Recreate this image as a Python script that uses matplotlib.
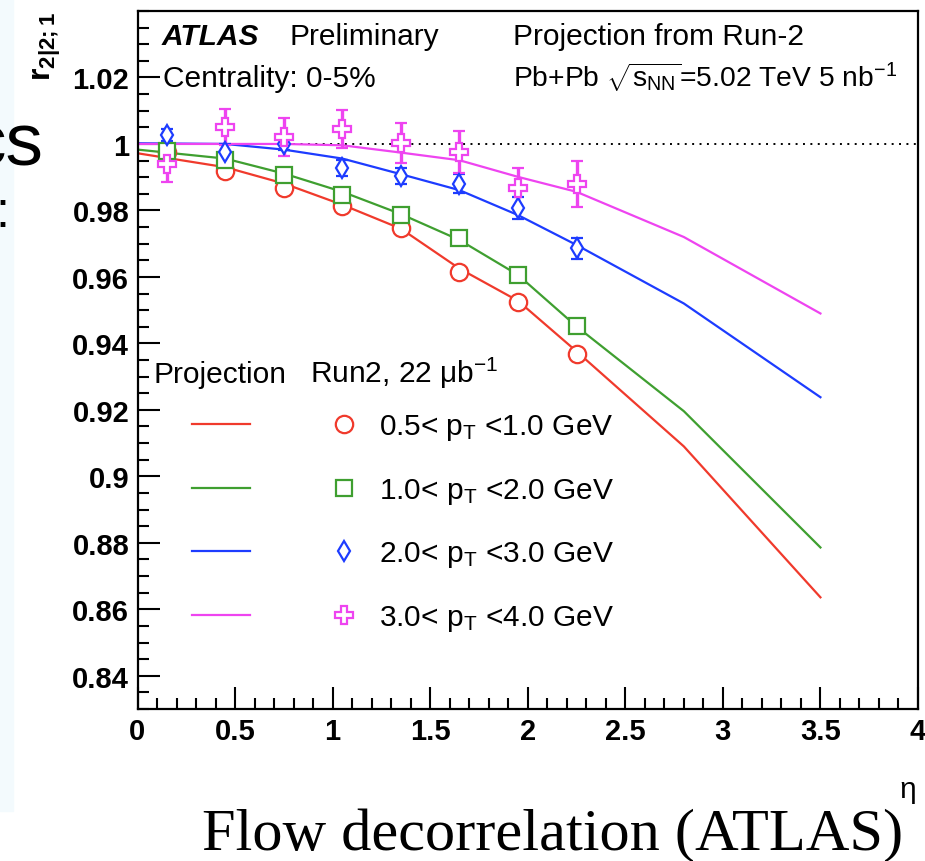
"""Projeção ATLAS da decorrelação de fluxo r_{2|2;1} vs. eta (Pb+Pb, 0-5%).

Gera out.png (925x862 px) com os pontos Run-2 e as curvas de projeção.
"""

import matplotlib

matplotlib.use("Agg")  # sem tela
import matplotlib.pyplot as plt
from matplotlib.ticker import FixedLocator, FuncFormatter

# --- dados -------------------------------------------------------------------
ETA_DADOS = [0.15, 0.45, 0.75, 1.05, 1.35, 1.65, 1.95, 2.25]
ETA_PROJ = [0.0, 0.45, 0.75, 1.05, 1.35, 1.65, 1.95, 2.25, 2.8, 3.5]

R_PT1 = [0.9975, 0.9919, 0.9868, 0.9814, 0.9748, 0.9614, 0.9524, 0.9368]
R_PT2 = [0.9979, 0.9952, 0.9907, 0.9847, 0.9786, 0.9716, 0.9606, 0.9451]
R_PT3 = [1.0026, 0.9976, 1.0001, 0.9928, 0.9904, 0.9881, 0.9806, 0.9686]
R_PT4 = [0.9941, 1.0051, 1.0021, 1.0046, 1.0003, 0.9976, 0.9866, 0.9879]

ERR_PT1 = [0.0004, 0.0004, 0.0004, 0.0004, 0.0004, 0.0004, 0.0004, 0.0005]
ERR_PT2 = [0.0004, 0.0004, 0.0004, 0.0004, 0.0004, 0.0004, 0.0005, 0.0005]
ERR_PT3 = [0.0018, 0.0025, 0.0020, 0.0025, 0.0025, 0.0028, 0.0033, 0.0032]
ERR_PT4 = [0.0055, 0.0055, 0.0057, 0.0057, 0.0060, 0.0063, 0.0063, 0.0069]

PROJ_PT1 = [0.9972, 0.9930, 0.9881, 0.9817, 0.9745, 0.9625, 0.9528, 0.9376, 0.9090, 0.8636]
PROJ_PT2 = [0.9983, 0.9956, 0.9911, 0.9856, 0.9789, 0.9711, 0.9606, 0.9451, 0.9196, 0.8786]
PROJ_PT3 = [1.0002, 1.0000, 0.9983, 0.9956, 0.9909, 0.9861, 0.9786, 0.9696, 0.9520, 0.9238]
PROJ_PT4 = [1.0000, 1.0000, 1.0000, 0.9996, 0.9974, 0.9951, 0.9901, 0.9856, 0.9720, 0.9490]

ROTULOS = [
    r"0.5< p$_\mathregular{T}$ <1.0 GeV",
    r"1.0< p$_\mathregular{T}$ <2.0 GeV",
    r"2.0< p$_\mathregular{T}$ <3.0 GeV",
    r"3.0< p$_\mathregular{T}$ <4.0 GeV",
]
X_TICKS = [0, 0.5, 1, 1.5, 2, 2.5, 3, 3.5, 4]
Y_TICKS = [0.84, 0.86, 0.88, 0.9, 0.92, 0.94, 0.96, 0.98, 1.0, 1.02]

CORES = ["#f03a2c", "#3f9f30", "#1d3cff", "#ee44f0"]
MARCADORES = ["o", "s", "d", "P"]
TAM_MARC = [12.5, 11.5, 10.5, 13]

W, H = 925, 862
FONTE = "Liberation Sans"
TAM_TEXTO = 21.5


def px(x, y):
    """Pixel (origem no topo-esquerdo) -> fração da figura."""
    return x / W, 1 - y / H


def main() -> None:
    plt.rcParams["font.family"] = [FONTE, "DejaVu Sans"]
    plt.rcParams["mathtext.fontset"] = "custom"
    plt.rcParams["mathtext.rm"] = FONTE
    plt.rcParams["mathtext.it"] = FONTE + ":italic"
    plt.rcParams["mathtext.bf"] = FONTE + ":bold"

    fig = plt.figure(figsize=(W / 100, H / 100), dpi=100)
    # faixa azul-clara do slide à esquerda
    fig.patches.append(plt.Rectangle(px(0, 812), 13 / W, 812 / H, transform=fig.transFigure,
                                     color="#f3fafd", zorder=0))

    ax = fig.add_axes([137.5 / W, 1 - 710 / H, (918 - 137.5) / W, (710 - 12) / H])
    ax.set_xlim(0, 4)
    ax.set_ylim(0.83, 1.04)

    ax.axhline(1.0, color="black", lw=1.4, ls=(0, (1, 2.8)), zorder=1)

    serie_r = [R_PT1, R_PT2, R_PT3, R_PT4]
    serie_e = [ERR_PT1, ERR_PT2, ERR_PT3, ERR_PT4]
    serie_p = [PROJ_PT1, PROJ_PT2, PROJ_PT3, PROJ_PT4]
    for cor, proj in zip(CORES, serie_p):
        ax.plot(ETA_PROJ, proj, color=cor, lw=1.6, zorder=2)
    for cor, m, ms, r, e in zip(CORES, MARCADORES, TAM_MARC, serie_r, serie_e):
        ax.errorbar(ETA_DADOS, r, yerr=e, fmt=m, color=cor, mfc="white", mec=cor, ms=ms,
                    mew=1.6, elinewidth=2.4, capsize=4.5, capthick=2.4, zorder=3)

    # eixos no estilo ROOT: ticks para dentro, só esquerda/baixo
    ax.xaxis.set_major_locator(FixedLocator(X_TICKS))
    ax.yaxis.set_major_locator(FixedLocator(Y_TICKS))
    ax.xaxis.set_minor_locator(FixedLocator([i / 10 for i in range(41)]))
    ax.yaxis.set_minor_locator(FixedLocator([0.83 + i * 0.005 for i in range(43)]))
    fmt = FuncFormatter(lambda v, _: f"{v:g}")
    ax.xaxis.set_major_formatter(fmt)
    ax.yaxis.set_major_formatter(fmt)
    ax.tick_params(which="both", direction="in", top=False, right=False, width=1.5, color="black")
    ax.tick_params(which="major", length=16, labelsize=21, pad=6)
    ax.tick_params(which="minor", length=8)
    for lab in ax.get_xticklabels() + ax.get_yticklabels():
        lab.set_fontweight("bold")
    for sp in ax.spines.values():
        sp.set_linewidth(1.6)

    # textos ATLAS
    fig.text(*px(162, 45), "ATLAS", fontsize=TAM_TEXTO, fontweight="bold", style="italic")
    fig.text(*px(290, 45), "Preliminary", fontsize=TAM_TEXTO)
    fig.text(*px(163, 87), "Centrality: 0-5%", fontsize=TAM_TEXTO)
    fig.text(*px(513, 45), "Projection from Run-2", fontsize=TAM_TEXTO)
    fig.text(*px(513, 87), r"Pb+Pb $\sqrt{\mathregular{s}_\mathregular{NN}}$=5.02 TeV 5 nb$^{-1}$",
             fontsize=20.3)

    # legenda manual (duas colunas: projeção / Run2)
    fig.text(*px(154, 383), "Projection", fontsize=TAM_TEXTO)
    fig.text(*px(310, 383), r"Run2, 22 μb$^{-1}$", fontsize=TAM_TEXTO)
    linhas_y = [425, 489, 552, 616]
    for cor, m, ms, rot, yy in zip(CORES, MARCADORES, TAM_MARC, ROTULOS, linhas_y):
        x0, y0 = px(192, yy)
        x1, _ = px(250, yy)
        fig.add_artist(plt.Line2D([x0, x1], [y0, y0], color=cor, lw=1.6, transform=fig.transFigure))
        fig.add_artist(plt.Line2D([px(344, yy)[0]], [y0], marker=m, color=cor, mfc="white",
                                  mec=cor, ms=ms, mew=1.6, transform=fig.transFigure))
        fig.text(*px(379, yy + 10), rot, fontsize=TAM_TEXTO)

    # rótulos dos eixos
    fig.text(*px(47, 12), r"$\mathbf{r_{2|2;1}}$", fontsize=23, rotation=90,
             ha="center", va="top")
    fig.text(*px(908, 798), "η", fontsize=TAM_TEXTO, ha="center", va="baseline")

    # restos do slide (cortados na borda, como no original)
    fig.text(*px(44, 166), "cs", fontsize=54, ha="right", va="baseline")
    fig.text(*px(9, 227), ":", fontsize=36, ha="right", va="baseline")
    fig.text(*px(903, 850), "Flow decorrelation (ATLAS)", fontsize=43.5,
             family="Liberation Serif", ha="right", va="baseline")

    fig.savefig("out.png", dpi=100)
    plt.close(fig)


if __name__ == "__main__":
    main()
